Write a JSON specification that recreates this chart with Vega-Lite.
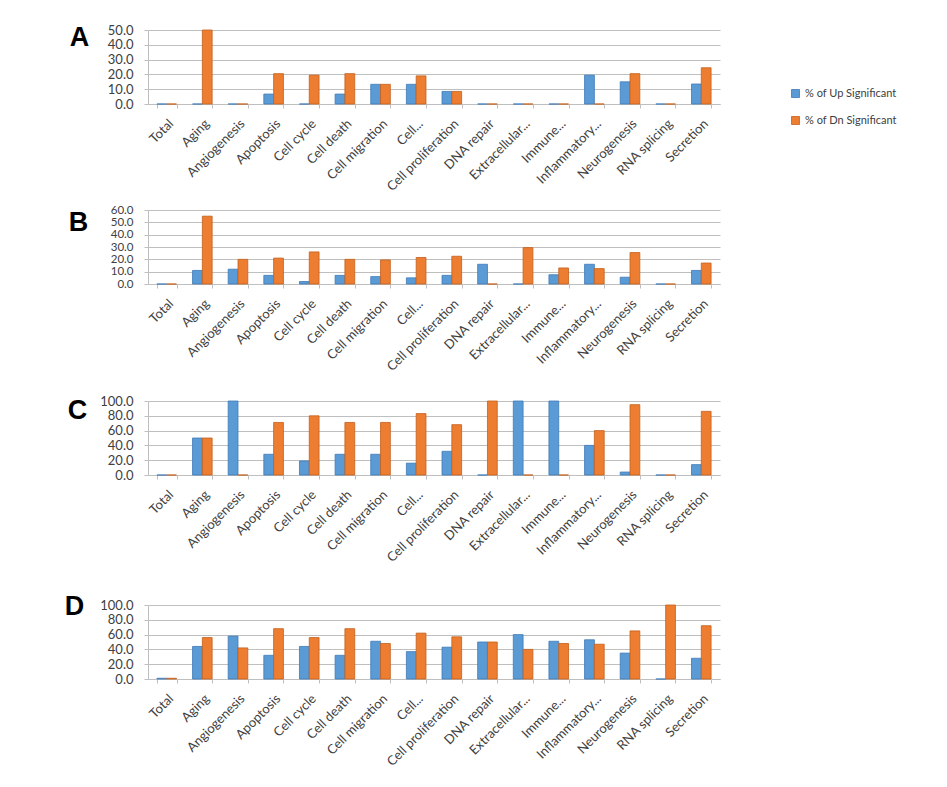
{
  "$schema": "https://vega.github.io/schema/vega-lite/v6.json",
  "padding": {"left": 64, "top": 23, "right": 5, "bottom": 5},
  "background": "white",
  "datasets": {
    "A": [
      {"category": "Total", "Up": 0, "Dn": 0},
      {"category": "Aging", "Up": 0, "Dn": 50},
      {"category": "Angiogenesis", "Up": 0, "Dn": 0},
      {"category": "Apoptosis", "Up": 6.7, "Dn": 20.5},
      {"category": "Cell cycle", "Up": 0, "Dn": 19.5},
      {"category": "Cell death", "Up": 6.7, "Dn": 20.5},
      {"category": "Cell migration", "Up": 13.3, "Dn": 13.3},
      {"category": "Cell...", "Up": 13.3, "Dn": 19},
      {"category": "Cell proliferation", "Up": 8.5, "Dn": 8.5},
      {"category": "DNA repair", "Up": 0, "Dn": 0},
      {"category": "Extracellular...", "Up": 0, "Dn": 0},
      {"category": "Immune...", "Up": 0, "Dn": 0},
      {"category": "Inflammatory...", "Up": 19.5, "Dn": 0},
      {"category": "Neurogenesis", "Up": 15, "Dn": 20.5},
      {"category": "RNA splicing", "Up": 0, "Dn": 0},
      {"category": "Secretion", "Up": 13.5, "Dn": 24.5}
    ],
    "B": [
      {"category": "Total", "Up": 0, "Dn": 0},
      {"category": "Aging", "Up": 11, "Dn": 55},
      {"category": "Angiogenesis", "Up": 12, "Dn": 20},
      {"category": "Apoptosis", "Up": 7, "Dn": 21},
      {"category": "Cell cycle", "Up": 2, "Dn": 26},
      {"category": "Cell death", "Up": 7, "Dn": 20},
      {"category": "Cell migration", "Up": 6, "Dn": 19.5},
      {"category": "Cell...", "Up": 5, "Dn": 21.5},
      {"category": "Cell proliferation", "Up": 7, "Dn": 22.5},
      {"category": "DNA repair", "Up": 16, "Dn": 0},
      {"category": "Extracellular...", "Up": 0, "Dn": 29.5},
      {"category": "Immune...", "Up": 7.5, "Dn": 13},
      {"category": "Inflammatory...", "Up": 16, "Dn": 12.5},
      {"category": "Neurogenesis", "Up": 5.5, "Dn": 25.5},
      {"category": "RNA splicing", "Up": 0, "Dn": 0},
      {"category": "Secretion", "Up": 11, "Dn": 17}
    ],
    "C": [
      {"category": "Total", "Up": 0, "Dn": 0},
      {"category": "Aging", "Up": 50, "Dn": 50},
      {"category": "Angiogenesis", "Up": 100, "Dn": 0},
      {"category": "Apoptosis", "Up": 28, "Dn": 71},
      {"category": "Cell cycle", "Up": 19, "Dn": 80},
      {"category": "Cell death", "Up": 28, "Dn": 71},
      {"category": "Cell migration", "Up": 28, "Dn": 71},
      {"category": "Cell...", "Up": 16, "Dn": 83},
      {"category": "Cell proliferation", "Up": 32, "Dn": 68},
      {"category": "DNA repair", "Up": 0, "Dn": 100},
      {"category": "Extracellular...", "Up": 100, "Dn": 0},
      {"category": "Immune...", "Up": 100, "Dn": 0},
      {"category": "Inflammatory...", "Up": 40, "Dn": 60},
      {"category": "Neurogenesis", "Up": 4, "Dn": 95},
      {"category": "RNA splicing", "Up": 0, "Dn": 0},
      {"category": "Secretion", "Up": 14, "Dn": 86}
    ],
    "D": [
      {"category": "Total", "Up": 1, "Dn": 1},
      {"category": "Aging", "Up": 44, "Dn": 56},
      {"category": "Angiogenesis", "Up": 58, "Dn": 42},
      {"category": "Apoptosis", "Up": 32, "Dn": 68},
      {"category": "Cell cycle", "Up": 44, "Dn": 56},
      {"category": "Cell death", "Up": 32, "Dn": 68},
      {"category": "Cell migration", "Up": 51, "Dn": 48},
      {"category": "Cell...", "Up": 37, "Dn": 62},
      {"category": "Cell proliferation", "Up": 43, "Dn": 57},
      {"category": "DNA repair", "Up": 50, "Dn": 50},
      {"category": "Extracellular...", "Up": 60, "Dn": 40},
      {"category": "Immune...", "Up": 51, "Dn": 48},
      {"category": "Inflammatory...", "Up": 53, "Dn": 47},
      {"category": "Neurogenesis", "Up": 35, "Dn": 65},
      {"category": "RNA splicing", "Up": 0, "Dn": 100},
      {"category": "Secretion", "Up": 28, "Dn": 72}
    ]
  },
  "config": {
    "view": {"stroke": null},
    "font": "Lato",
    "axis": {
      "labelFont": "Lato",
      "labelFontSize": 13,
      "labelColor": "#404040",
      "domainColor": "#bfbfbf",
      "tickColor": "#bfbfbf",
      "gridColor": "#bfbfbf",
      "titleFont": "Liberation Sans",
      "titleFontSize": 27,
      "titleFontWeight": "bold",
      "titleColor": "#000000"
    },
    "axisX": {
      "labelAngle": -45,
      "labelAlign": "right",
      "labelBaseline": "top",
      "labelFontSize": 13,
      "tickBand": "extent",
      "tickSize": 4,
      "labelPadding": 9,
      "grid": false,
      "title": null
    },
    "axisY": {
      "labelPadding": 11,
      "tickSize": 4,
      "labelOverlap": false,
      "titleAngle": 0,
      "titleAlign": "center",
      "titleBaseline": "middle",
      "format": ".1f"
    },
    "bar": {"strokeWidth": 0.8}
  },
  "spacing": 10,
  "vconcat": [
    {
      "data": {"name": "A"},
      "width": 572,
      "height": 74,
      "transform": [{"fold": ["Up", "Dn"], "as": ["series", "value"]}],
      "mark": {"type": "bar"},
      "encoding": {
        "x": {"field": "category", "type": "nominal", "sort": null, "scale": {"paddingInner": 0.45, "paddingOuter": 0.25}},
        "xOffset": {"field": "series", "type": "nominal", "sort": ["Up", "Dn"]},
        "y": {"field": "value", "type": "quantitative", "scale": {"domain": [0, 50], "nice": false}, "axis": {"values": [0, 10, 20, 30, 40, 50], "title": "A", "titleX": -69, "titleY": 7}},
        "color": {"field": "series", "type": "nominal", "scale": {"domain": ["Up", "Dn"], "range": ["#5B9BD5", "#ED7D31"]},
          "legend": {"orient": "none", "legendX": 642, "legendY": 58, "title": null, "labelExpr": "datum.label == 'Up' ? '% of Up Significant' : '% of Dn Significant'", "symbolType": "square", "symbolSize": 64, "labelFontSize": 11, "labelFont": "Lato", "labelColor": "#404040", "rowPadding": 14, "symbolStrokeWidth": 0}},
        "stroke": {"field": "series", "type": "nominal", "scale": {"domain": ["Up", "Dn"], "range": ["#3d7ab8", "#c45f1c"]}, "legend": null}
      }
    },
    {
      "spacing": 21,
      "vconcat": [
        {
          "data": {"name": "B"},
          "width": 572,
          "height": 74,
          "transform": [{"fold": ["Up", "Dn"], "as": ["series", "value"]}],
          "mark": {"type": "bar"},
          "encoding": {
            "x": {"field": "category", "type": "nominal", "sort": null, "scale": {"paddingInner": 0.45, "paddingOuter": 0.25}},
            "xOffset": {"field": "series", "type": "nominal", "sort": ["Up", "Dn"]},
            "y": {"field": "value", "type": "quantitative", "scale": {"domain": [0, 60], "nice": false}, "axis": {"values": [0, 10, 20, 30, 40, 50, 60], "title": "B", "titleX": -70, "titleY": 12, "labelFontSize": 11.5}},
            "color": {"field": "series", "type": "nominal"},
            "stroke": {"field": "series", "type": "nominal", "legend": null}
          }
        },
        {
          "spacing": 27,
          "vconcat": [
            {
              "data": {"name": "C"},
              "width": 572,
              "height": 74,
              "transform": [{"fold": ["Up", "Dn"], "as": ["series", "value"]}],
              "mark": {"type": "bar"},
              "encoding": {
                "x": {"field": "category", "type": "nominal", "sort": null, "scale": {"paddingInner": 0.45, "paddingOuter": 0.25}},
                "xOffset": {"field": "series", "type": "nominal", "sort": ["Up", "Dn"]},
                "y": {"field": "value", "type": "quantitative", "scale": {"domain": [0, 100], "nice": false}, "axis": {"values": [0, 20, 40, 60, 80, 100], "title": "C", "titleX": -71, "titleY": 9}},
                "color": {"field": "series", "type": "nominal"},
                "stroke": {"field": "series", "type": "nominal", "legend": null}
              }
            },
            {
              "data": {"name": "D"},
              "width": 572,
              "height": 74,
              "transform": [{"fold": ["Up", "Dn"], "as": ["series", "value"]}],
              "mark": {"type": "bar"},
              "encoding": {
                "x": {"field": "category", "type": "nominal", "sort": null, "scale": {"paddingInner": 0.45, "paddingOuter": 0.25}},
                "xOffset": {"field": "series", "type": "nominal", "sort": ["Up", "Dn"]},
                "y": {"field": "value", "type": "quantitative", "scale": {"domain": [0, 100], "nice": false}, "axis": {"values": [0, 20, 40, 60, 80, 100], "title": "D", "titleX": -74, "titleY": 1}},
                "color": {"field": "series", "type": "nominal"},
                "stroke": {"field": "series", "type": "nominal", "legend": null}
              }
            }
          ]
        }
      ]
    }
  ]
}
